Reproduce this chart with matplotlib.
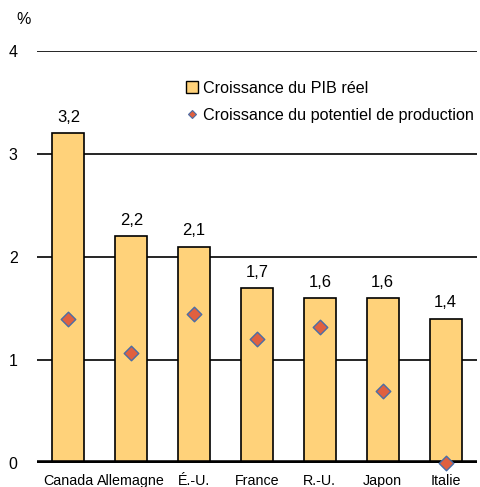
import matplotlib
matplotlib.use("Agg")
import matplotlib.pyplot as plt
from matplotlib.lines import Line2D

plt.rcParams['font.family'] = ['Liberation Sans', 'DejaVu Sans']

countries = ["Canada", "Allemagne", "É.-U.", "France", "R.-U.", "Japon", "Italie"]
gdp_growth = [3.2, 2.2, 2.1, 1.7, 1.6, 1.6, 1.4]
potential_growth = [1.40, 1.07, 1.45, 1.20, 1.32, 0.70, 0.0]
gdp_labels = ["3,2", "2,2", "2,1", "1,7", "1,6", "1,6", "1,4"]

BAR_COLOR = "#FFD27A"
DIAMOND_FACE = "#E0603F"
DIAMOND_EDGE = "#4A6DA7"

fig = plt.figure(figsize=(4.8, 4.87), dpi=100)
ax = fig.add_axes([37 / 480, 1 - 463 / 487, 440 / 480, 412 / 487])

x = range(len(countries))
ax.bar(x, gdp_growth, width=0.51, color=BAR_COLOR, edgecolor="black", linewidth=1.2, zorder=3)
ax.scatter(x, potential_growth, marker="D", s=55, color=DIAMOND_FACE,
           edgecolor=DIAMOND_EDGE, linewidth=1.0, zorder=5, clip_on=False)

for xi, v, lbl in zip(x, gdp_growth, gdp_labels):
    ax.text(xi, v + 0.11, lbl, ha="center", va="baseline", fontsize=12)

# horizontal grid lines, heavy zero line
for yv in [1, 2, 3, 4]:
    ax.axhline(yv, color="black", linewidth=1.2, zorder=1)
ax.axhline(0, color="black", linewidth=4, zorder=4)

ax.set_xlim(-0.5, 6.5)
ax.set_ylim(0, 4)
ax.set_yticks([0, 1, 2, 3, 4])
ax.set_yticklabels(["0", "1", "2", "3", "4"], fontsize=11.5)
ax.set_xticks(list(x))
ax.set_xticklabels(countries, fontsize=10.3)
ax.tick_params(axis="both", length=0)
ax.tick_params(axis="y", pad=14)
ax.tick_params(axis="x", pad=8)
for s in ax.spines.values():
    s.set_visible(False)

fig.text(24 / 480, 1 - 20 / 487, "%", fontsize=11.5, ha="center", va="center")

handles = [
    Line2D([], [], marker="s", linestyle="none", markersize=8,
           markerfacecolor=BAR_COLOR, markeredgecolor="black", markeredgewidth=1.0),
    Line2D([], [], marker="D", linestyle="none", markersize=4,
           markerfacecolor=DIAMOND_FACE, markeredgecolor=DIAMOND_EDGE, markeredgewidth=0.8),
]
ax.legend(handles, ["Croissance du PIB réel", "Croissance du potentiel de production"],
          loc="upper left", bbox_to_anchor=(186 / 480, 1 - 81 / 487),
          bbox_transform=fig.transFigure, frameon=False, fontsize=11.6,
          handlelength=0.8, handletextpad=0.25, labelspacing=0.72, borderpad=0,
          borderaxespad=0)

fig.savefig("out.png", dpi=100)
